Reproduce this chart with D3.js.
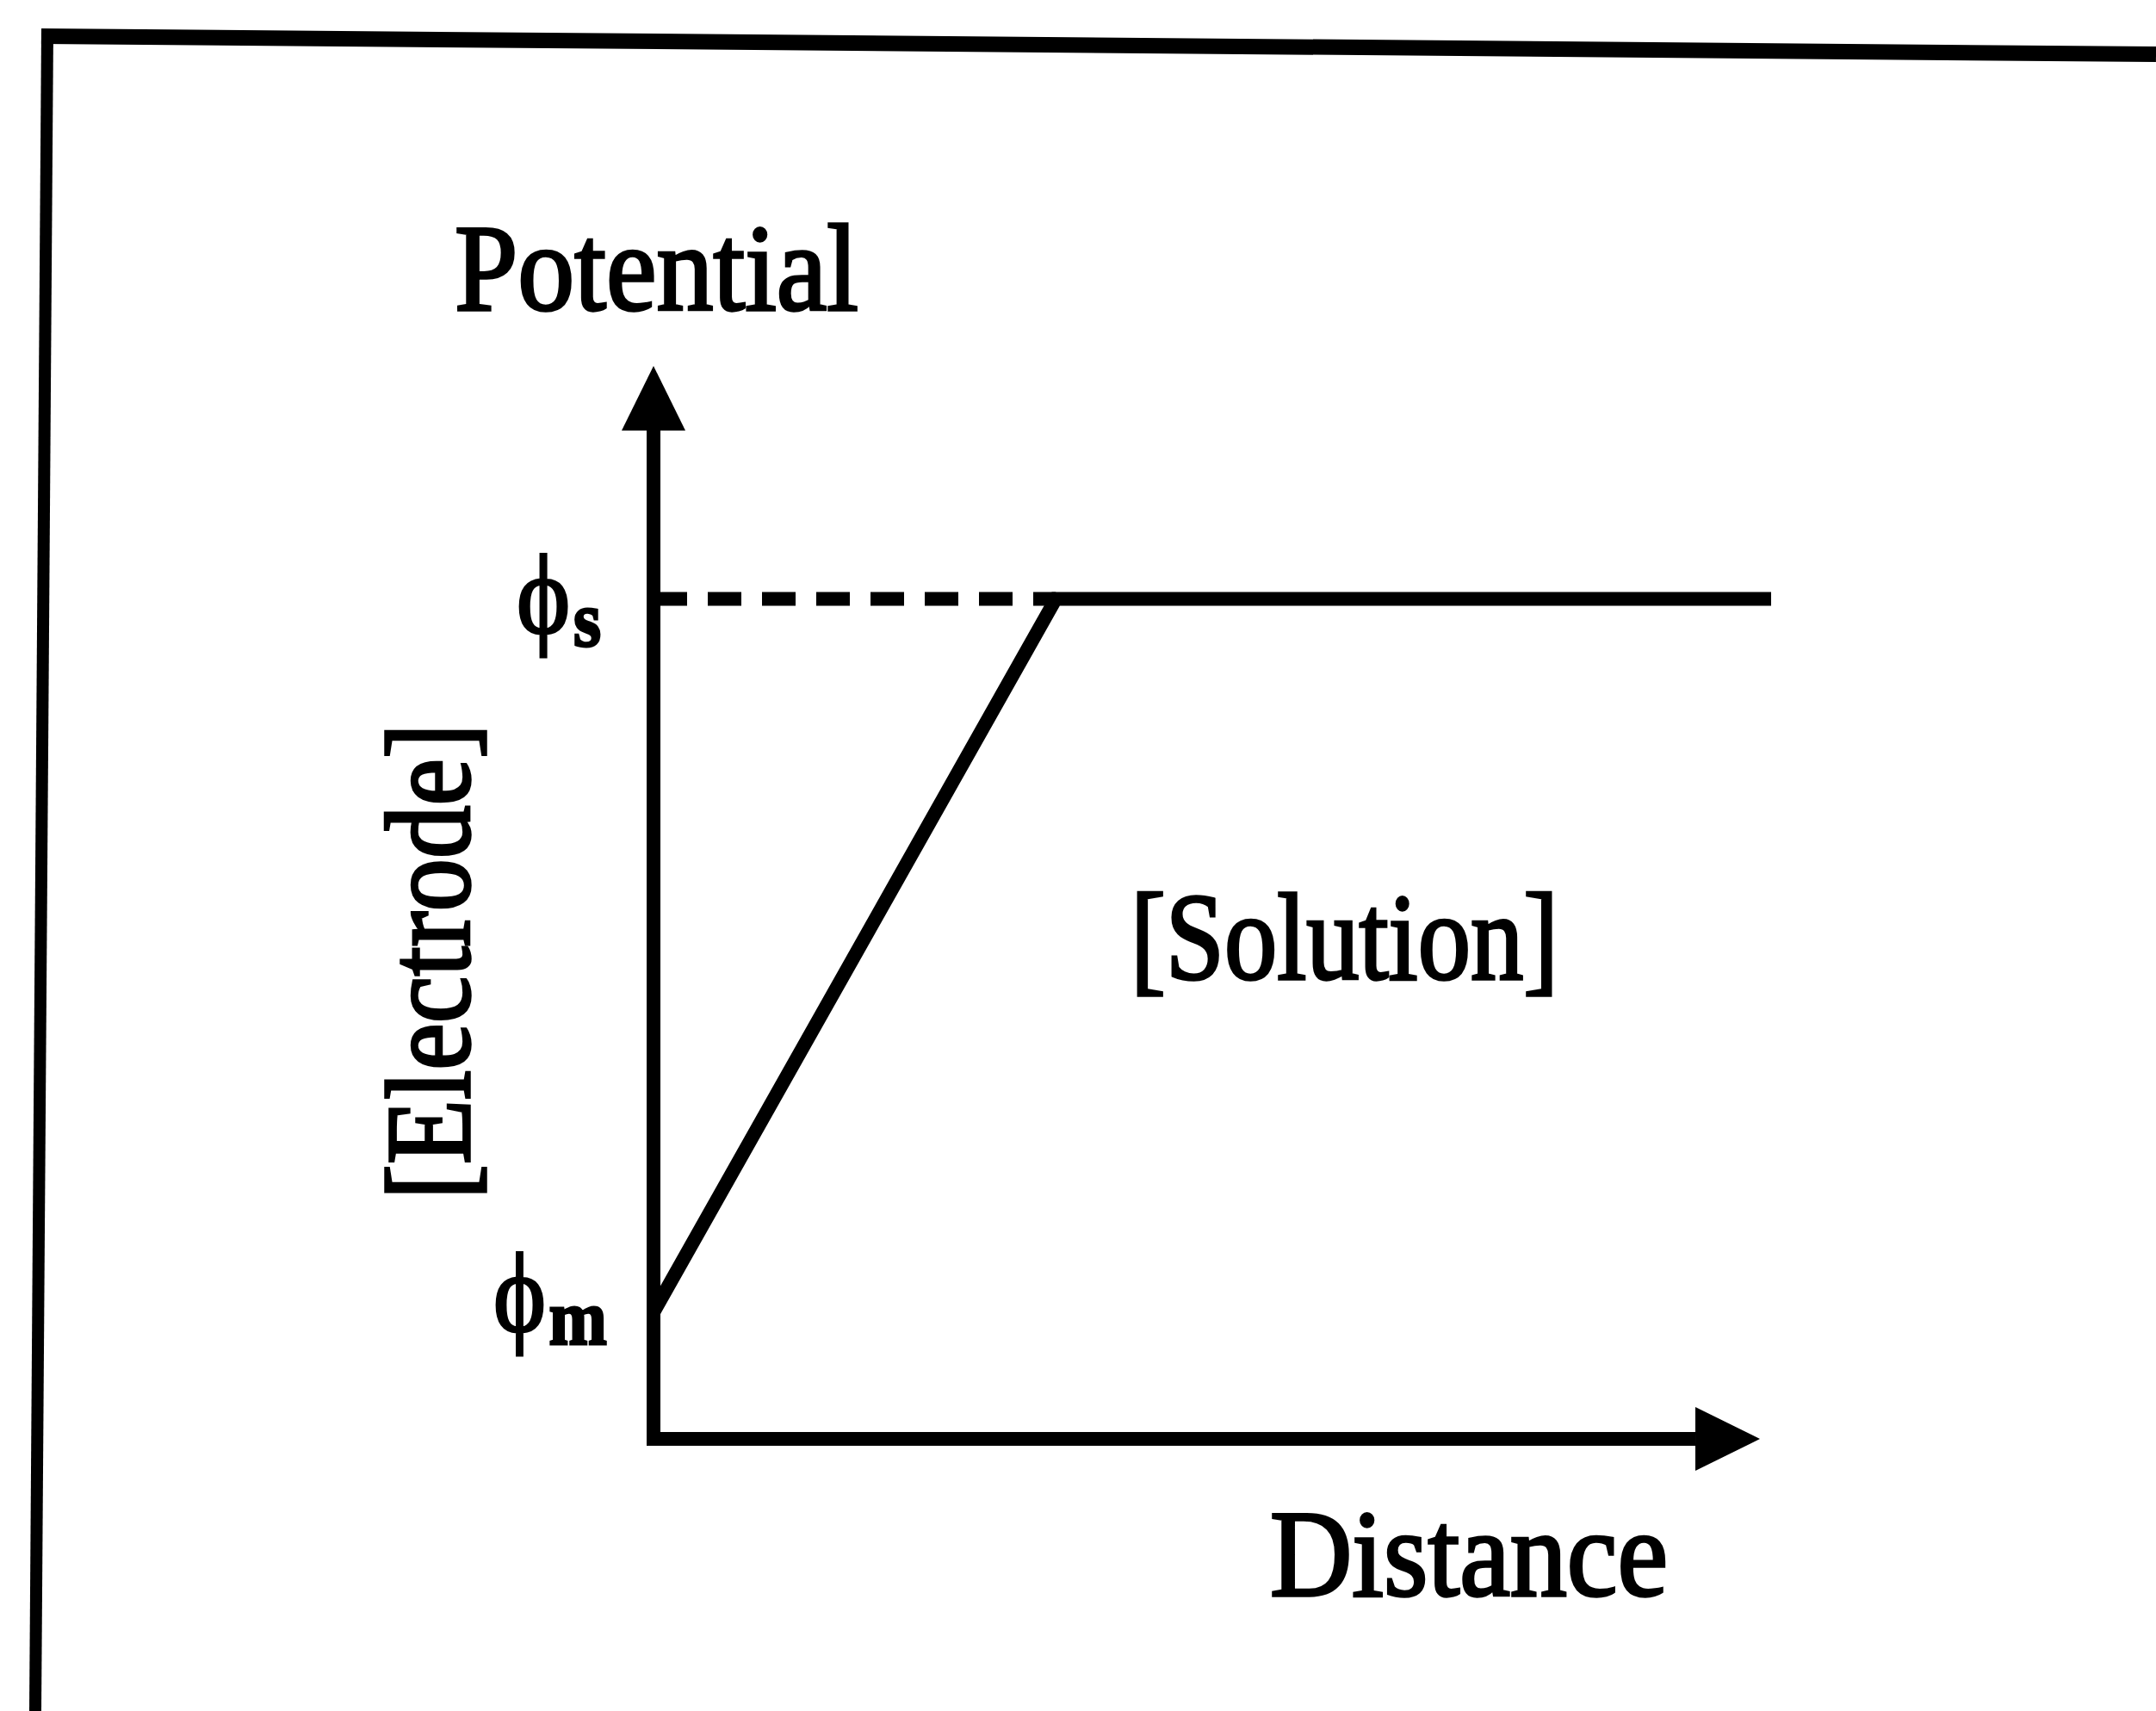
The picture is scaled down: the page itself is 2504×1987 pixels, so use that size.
<!DOCTYPE html>
<html>
<head>
<meta charset="utf-8">
<script src="https://cdn.jsdelivr.net/npm/d3@7"></script>
<style>
  html, body { margin: 0; padding: 0; background: #ffffff; }
  svg { display: block; }
  text { font-family: "Liberation Serif", "DejaVu Serif", "Times New Roman", serif; fill: #000; }
</style>
</head>
<body>
<svg id="chart" width="2504" height="1987"></svg>
<script>
// ---- data (schematic units) ----
const distance  = [0, 36, 100];          // electrode surface, end of double layer, bulk solution
const potential = [11.8, 78.3, 78.3];    // phi_m -> phi_s, then flat
const phiLevels = [
  { name: "s", value: 78.3 },
  { name: "m", value: 11.8 }
];
const axisTitles = { x: "Distance", y: "Potential" };
const regionLabels = ["[Electrode]", "[Solution]"];
const axisMax = { x: 99, y: 100 };

// ---- layout ----
const W = 2504, H = 1987;
const svg = d3.select("#chart");
const x = d3.scaleLinear().domain([0, 100]).range([759, 2057]);
const y = d3.scaleLinear().domain([0, 100]).range([1671, 425]);
const LW = 16;

// scanned frame (top and left edge only)
svg.append("line").attr("x1", 48).attr("y1", 42).attr("x2", W).attr("y2", 63)
  .attr("stroke", "#000").attr("stroke-width", 18);
svg.append("line").attr("x1", 55).attr("y1", 34).attr("x2", 41).attr("y2", H)
  .attr("stroke", "#000").attr("stroke-width", 14);

// axes
const arrowLen = 75, arrowHalf = 37;
svg.append("path")
  .attr("d", `M${x(0)},${y(axisMax.y) + arrowLen} L${x(0)},${y(0)} L${x(axisMax.x) - arrowLen},${y(0)}`)
  .attr("fill", "none").attr("stroke", "#000").attr("stroke-width", LW)
  .attr("stroke-linejoin", "miter");
svg.append("path")
  .attr("d", `M${x(0)},${y(axisMax.y)} L${x(0) - arrowHalf},${y(axisMax.y) + arrowLen} L${x(0) + arrowHalf},${y(axisMax.y) + arrowLen} Z`)
  .attr("fill", "#000");
svg.append("path")
  .attr("d", `M${x(axisMax.x)},${y(0)} L${x(axisMax.x) - arrowLen},${y(0) - arrowHalf} L${x(axisMax.x) - arrowLen},${y(0) + arrowHalf} Z`)
  .attr("fill", "#000");

// dashed guide at phi_s
svg.append("line")
  .attr("x1", x(0)).attr("x2", x(distance[1]))
  .attr("y1", y(phiLevels[0].value)).attr("y2", y(phiLevels[0].value))
  .attr("stroke", "#000").attr("stroke-width", 16)
  .attr("stroke-dasharray", "39 24");

// potential profile
const pts = distance.map((d, i) => [d, potential[i]]);
svg.append("path")
  .datum(pts)
  .attr("d", d3.line().x(d => x(d[0])).y(d => y(d[1])))
  .attr("fill", "none").attr("stroke", "#000").attr("stroke-width", 16)
  .attr("stroke-linejoin", "miter");

// text helper
function label(txt, px, py, size, len, opts = {}) {
  const t = svg.append("text")
    .attr("x", px).attr("y", py)
    .attr("font-size", size)
    .attr("textLength", len)
    .attr("lengthAdjust", "spacingAndGlyphs")
    .attr("stroke", "#000").attr("stroke-width", opts.sw ?? 3.5)
    .text(txt);
  if (opts.rotate) t.attr("transform", `rotate(${opts.rotate},${px},${py})`);
  return t;
}

label(axisTitles.y, 528, 360, 144, 469);
label(axisTitles.x, 1475, 1853, 143, 462);
label(regionLabels[1], 1313, 1137, 143, 497);
label(regionLabels[0], 545, 1393, 140, 553, { rotate: -90 });

// phi labels: symbol + bold subscript in one text element
phiLevels.forEach(p => {
  const cy = y(p.value);
  const isS = p.name === "s";
  const t = svg.append("text")
    .attr("x", isS ? 600 : 573)
    .attr("y", cy + (isS ? 40 : 22))
    .attr("textLength", isS ? 98 : 132)
    .attr("lengthAdjust", "spacingAndGlyphs")
    .attr("stroke", "#000").attr("stroke-width", 3);
  t.append("tspan").attr("font-size", 132).text("\u03D5");
  t.append("tspan").attr("font-size", 92).attr("font-weight", "bold")
    .attr("dx", 4).attr("dy", 15).text(p.name);
});
</script>
</body>
</html>
